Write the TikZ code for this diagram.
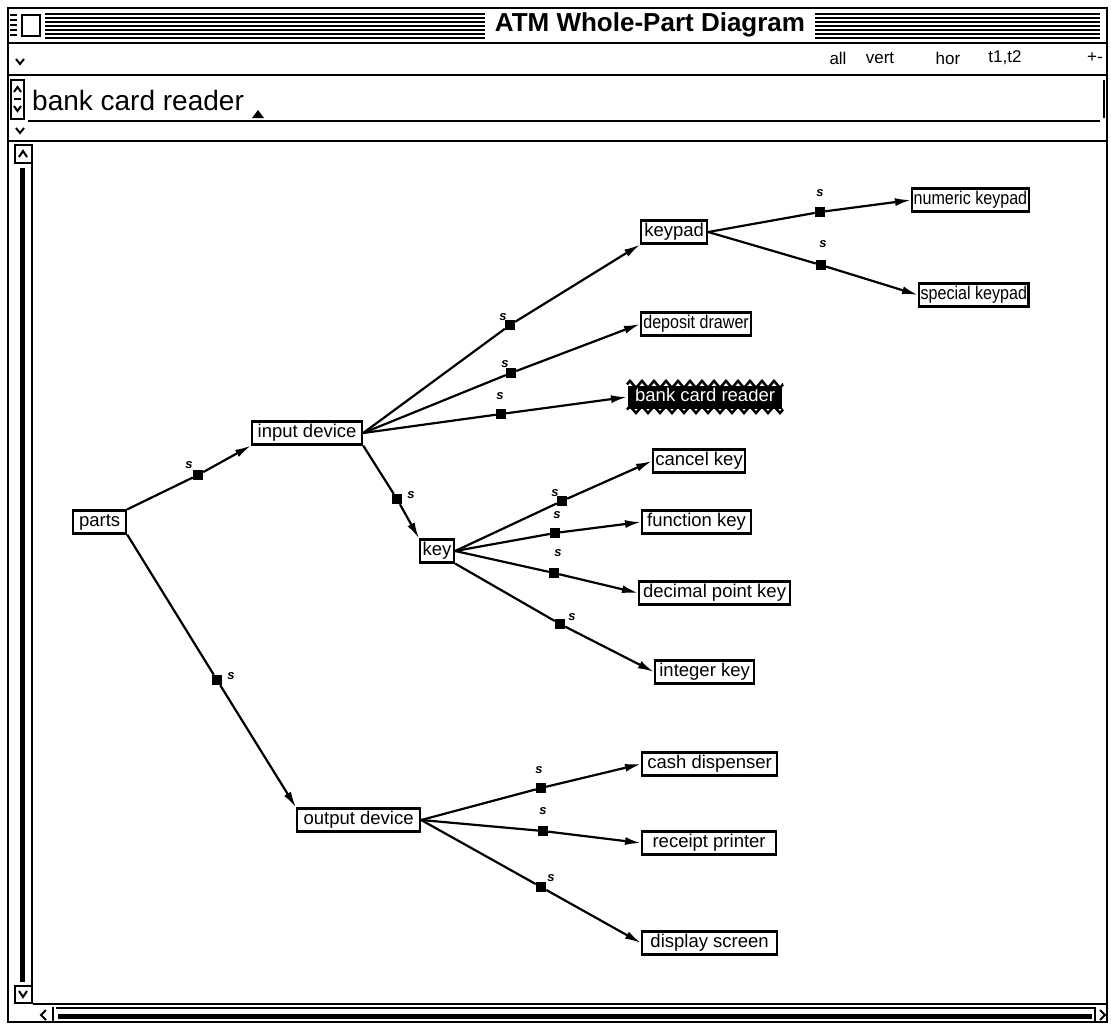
\documentclass[tikz,border=0pt]{standalone}
\usepackage{fontspec}
\setmainfont{Liberation Sans}
\newfontfamily\narrowfont[FakeStretch=0.87]{Liberation Sans}
\usetikzlibrary{arrows.meta,decorations.pathmorphing}
\begin{document}
\begin{tikzpicture}[x=1pt,y=-1pt,
  part/.style={draw, line width=2.2pt, fill=white, inner xsep=1.5pt, inner ysep=2.5pt, anchor=west,
     font=\fontsize{18.5}{20}\selectfont, text height=13.5pt, text depth=4.5pt},
  narrow/.style={font=\narrowfont\fontsize{18.5}{20}\selectfont},
  wd/.style={minimum width=#1},
  mk/.style={fill=black, minimum size=10pt, inner sep=0pt},
  slab/.style={font=\fontsize{13}{13}\selectfont\bfseries\itshape, inner sep=0pt},
  conn/.style={line width=2.2pt},
  arr/.style={conn, -{Latex[length=16pt,width=8pt]}},
  frame/.style={line width=2pt},
  chev/.style={line width=2pt},
  menu/.style={font=\fontsize{17}{18}\selectfont, inner sep=0pt}
]
\useasboundingbox (0,0) rectangle (1111,1025);
\fill[white] (0,0) rectangle (1111,1025);

% ---------- window chrome ----------
\draw[frame] (8,8) rectangle (1107,1022);
\foreach \y in {14,18,...,38} \draw[line width=1.3pt] (45,\y) -- (1100,\y);
\fill[white] (14,11) rectangle (45,40);
\draw[line width=1.6pt] (22,15) rectangle (40,36);
\foreach \y in {15,20,25,30,35} \draw[line width=1.2pt] (10,\y) -- (17,\y);
\node[fill=white, font=\fontsize{26}{28}\selectfont\bfseries, inner xsep=10pt, inner ysep=4pt] (title) at (650,25) {ATM Whole-Part Diagram};
\draw[frame] (8,43) -- (1107,43);
% row 2
\draw[chev] (16,59) -- (20,64) -- (24,59);
\node[menu] (mall) at (838,58) {all};
\node[menu] (mvert) at (880,58) {vert};
\node[menu] (mhor) at (948,58) {hor};
\node[menu] (mt) at (1005,58) {t1,t2};
\node[menu] (mpm) at (1095,58) {+-};
\draw[frame] (8,75) -- (1107,75);
% row 3
\draw[line width=1.4pt] (11,80) rectangle (24,119);
\draw[chev] (14,92) -- (17.5,87) -- (21,92);
\draw[chev] (14,106) -- (17.5,111) -- (21,106);
\draw[line width=1.2pt] (14,99) -- (21,99);
\node[anchor=west, font=\fontsize{28}{30}\selectfont, inner sep=0pt] (field) at (32,100) {bank card reader};
\fill (252,118) -- (258,110) -- (264,118) -- cycle;
\draw[frame] (28,121) -- (1100,121);
\draw[line width=1.4pt] (1104,80) -- (1104,118);
% row 4
\draw[chev] (16,128) -- (20,133) -- (24,128);
\draw[frame] (8,141) -- (1107,141);
% vertical scroll bar
\draw[line width=1.4pt] (15,145) rectangle (32,163);
\draw[chev] (19,157) -- (23,151) -- (27,157);
\draw[line width=5pt] (22,168) -- (22,982);
\draw[line width=1.4pt] (32,163) -- (32,986);
\draw[line width=1.4pt] (15,986) rectangle (32,1003);
\draw[chev] (19,991) -- (23,997) -- (27,991);
% bottom scroll bar
\draw[frame] (33,1004) -- (1107,1004);
\draw[chev] (46,1010) -- (41,1015) -- (46,1020);
\draw[line width=1.2pt] (53,1007) -- (53,1022);
\draw[line width=1.2pt] (56,1008) -- (1094,1008);
\draw[line width=5pt] (58,1016) -- (1092,1016);
\draw[line width=1.2pt] (1095,1007) -- (1095,1022);
\draw[chev] (1100,1010) -- (1105,1015) -- (1100,1020);
\draw[line width=1.4pt] (1107,141) -- (1107,1004);

% ---------- nodes ----------
\node[part, wd=53] (parts) at (72,522) {parts};
\node[part, wd=110] (input) at (251,433) {input device};
\node[part, wd=66] (keypad) at (640,232) {keypad};
\node[part, narrow, wd=110] (deposit) at (640,324) {deposit drawer};
\node[part, wd=154, fill=black, text=white, draw=none] (bank) at (627,397) {bank card reader};
\draw[line width=2.5pt, decorate, decoration={zigzag, segment length=12pt, amplitude=3.5pt}]
  (bank.north west) -- (bank.north east);
\draw[line width=2.5pt, decorate, decoration={zigzag, segment length=12pt, amplitude=3.5pt}]
  (bank.south west) -- (bank.south east);
\node[part, narrow, wd=116] (numeric) at (911,200) {numeric keypad};
\node[part, narrow, wd=107] (special) at (918,295) {special keypad};
\node[part, wd=92] (cancel) at (652,461) {cancel key};
\node[part, wd=109] (function) at (641,522) {function key};
\node[part, wd=34] (key) at (419,551) {key};
\node[part, wd=151] (decimal) at (638,593) {decimal point key};
\node[part, wd=99] (integer) at (654,672) {integer key};
\node[part, wd=123] (output) at (296,820) {output device};
\node[part, wd=135] (cash) at (641,764) {cash dispenser};
\node[part, wd=134] (receipt) at (641,843) {receipt printer};
\node[part, wd=135] (display) at (641,943) {display screen};

% ---------- markers ----------
\node[mk] (m1) at (198,475) {};   \node[slab] (s1) at (189,465) {s};
\node[mk] (m2) at (510,325) {};   \node[slab] (s2) at (503,317) {s};
\node[mk] (m3) at (511,373) {};   \node[slab] (s3) at (505,364) {s};
\node[mk] (m4) at (501,414) {};   \node[slab] (s4) at (500,396) {s};
\node[mk] (m5) at (397,499) {};   \node[slab] (s5) at (411,495) {s};
\node[mk] (m6) at (820,212) {};   \node[slab] (s6) at (820,193) {s};
\node[mk] (m7) at (821,265) {};   \node[slab] (s7) at (823,244) {s};
\node[mk] (m8) at (562,501) {};   \node[slab] (s8) at (555,493) {s};
\node[mk] (m9) at (555,533) {};   \node[slab] (s9) at (557,515) {s};
\node[mk] (m10) at (554,573) {};  \node[slab] (s10) at (558,553) {s};
\node[mk] (m11) at (560,624) {};  \node[slab] (s11) at (572,617) {s};
\node[mk] (m12) at (217,680) {};  \node[slab] (s12) at (231,676) {s};
\node[mk] (m13) at (541,788) {};  \node[slab] (s13) at (539,770) {s};
\node[mk] (m14) at (543,831) {};  \node[slab] (s14) at (543,811) {s};
\node[mk] (m15) at (541,887) {};  \node[slab] (s15) at (551,878) {s};

% ---------- connectors ----------
\draw[conn] (parts.north east) -- (m1);  \draw[arr] (m1) -- (input.south west);
\draw[conn] (input.east) -- (m2);        \draw[arr] (m2) -- (keypad.south west);
\draw[conn] (input.east) -- (m3);        \draw[arr] (m3) -- (deposit.west);
\draw[conn] (input.east) -- (m4);        \draw[arr] (m4) -- (bank.west);
\draw[conn] (input.south east) -- (m5);  \draw[arr] (m5) -- (key.north west);
\draw[conn] (keypad.east) -- (m6);       \draw[arr] (m6) -- (numeric.west);
\draw[conn] (keypad.east) -- (m7);       \draw[arr] (m7) -- (special.west);
\draw[conn] (key.east) -- (m8);          \draw[arr] (m8) -- (cancel.west);
\draw[conn] (key.east) -- (m9);          \draw[arr] (m9) -- (function.west);
\draw[conn] (key.east) -- (m10);         \draw[arr] (m10) -- (decimal.west);
\draw[conn] (key.south east) -- (m11);   \draw[arr] (m11) -- (integer.west);
\draw[conn] (parts.south east) -- (m12); \draw[arr] (m12) -- (output.north west);
\draw[conn] (output.east) -- (m13);      \draw[arr] (m13) -- (cash.west);
\draw[conn] (output.east) -- (m14);      \draw[arr] (m14) -- (receipt.west);
\draw[conn] (output.east) -- (m15);      \draw[arr] (m15) -- (display.west);
\end{tikzpicture}
\end{document}
